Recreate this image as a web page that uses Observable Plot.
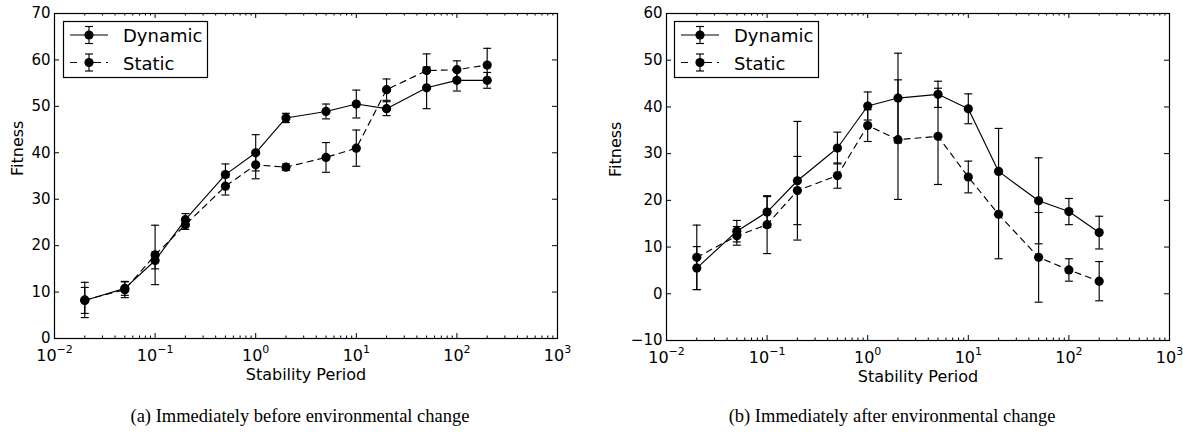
<!DOCTYPE html>
<html><head><meta charset="utf-8">
<script src="https://cdn.jsdelivr.net/npm/d3@7"></script>
<script src="https://cdn.jsdelivr.net/npm/@observablehq/plot@0.6"></script>
<style>
body{margin:0;background:#fff;}
#wrap{position:relative;width:1183px;height:438px;overflow:hidden;background:#fff;}
.panel{position:absolute;top:0;}
#overlay{position:absolute;left:0;top:0;pointer-events:none;}
</style></head>
<body><div id="wrap"></div>
<script>
// ---- data ----
const stabilityPeriod = [0.02, 0.05, 0.1, 0.2, 0.5, 1, 2, 5, 10, 20, 50, 100, 200];
// (a) before change
const dynamicBefore    = [8.2, 10.8, 16.8, 25.6, 35.3, 40.0, 47.5, 48.9, 50.5, 49.5, 54.0, 55.6, 55.6];
const dynamicBeforeErr = [2.8, 1.5, 1.8, 1.3, 2.3, 3.9, 1.0, 1.6, 3.0, 1.5, 4.5, 2.3, 1.7];
const staticBefore     = [8.3, 10.5, 18.0, 24.5, 32.8, 37.4, 36.9, 39.0, 41.0, 53.6, 57.7, 57.9, 58.9];
const staticBeforeErr  = [3.8, 1.7, 6.4, 1.0, 1.9, 3.0, 0.7, 3.2, 3.9, 2.3, 3.6, 1.9, 3.6];
// (b) after change
const dynamicAfter     = [5.5, 13.4, 17.5, 24.2, 31.2, 40.2, 41.9, 42.7, 39.6, 26.2, 19.9, 17.6, 13.1];
const dynamicAfterErr  = [4.6, 2.3, 3.3, 12.7, 3.4, 3.0, 9.6, 2.8, 3.2, 9.2, 9.2, 2.8, 3.5];
const staticAfter      = [7.8, 12.4, 14.8, 22.1, 25.3, 36.0, 33.0, 33.7, 25.0, 17.0, 7.8, 5.1, 2.7];
const staticAfterErr   = [6.9, 2.0, 6.2, 7.3, 2.7, 3.4, 12.8, 10.3, 3.4, 9.5, 9.6, 2.4, 4.2];

const xMajorTicks = [0.01, 0.1, 1, 10, 100, 1000];
const xMinorTicks = [0.01, 0.1, 1, 10, 100].flatMap(d => [2,3,4,5,6,7,8,9].map(m => +(m * d).toPrecision(3)));
const yTicksBefore = [0, 10, 20, 30, 40, 50, 60, 70];
const yTicksAfter  = [-10, 0, 10, 20, 30, 40, 50, 60];
const seriesNames = ["Dynamic", "Static"];
const captions = ["(a) Immediately before environmental change", "(b) Immediately after environmental change"];

// ---- helpers ----
const capSymbol = {draw(context, size) { const w = Math.sqrt(size / Math.PI); context.moveTo(-w, 0); context.lineTo(w, 0); }};
const rows = (ys, es) => stabilityPeriod.map((x, i) => ({x, y: ys[i], lo: ys[i] - es[i], hi: ys[i] + es[i]}));

function panel({dyn, dynErr, sta, staErr, yDomain, yTicks, width, marginLeft, marginRight, marginBottom, yLabelDx}) {
  const height = 384, marginTop = 13;
  const frameH = height - marginTop - marginBottom;
  const frameW = width - marginLeft - marginRight;
  const d = rows(dyn, dynErr), s = rows(sta, staErr);
  const seriesMarks = (data, dash) => [
    Plot.line(data, {x: "x", y: "y", stroke: "#000", strokeWidth: 1.15, strokeDasharray: dash}),
    Plot.ruleX(data, {x: "x", y1: "lo", y2: "hi", stroke: "#000", strokeWidth: 1.15}),
    Plot.dot(data, {x: "x", y: "lo", symbol: capSymbol, r: 4, stroke: "#000", fill: "none", strokeWidth: 1.15}),
    Plot.dot(data, {x: "x", y: "hi", symbol: capSymbol, r: 4, stroke: "#000", fill: "none", strokeWidth: 1.15}),
    Plot.dot(data, {x: "x", y: "y", r: 4.6, fill: "#000", stroke: "none"})
  ];
  const svg = Plot.plot({
    width, height, marginTop, marginLeft, marginRight, marginBottom,
    style: {fontFamily: "DejaVu Sans", fontSize: "15px", color: "#000", background: "#fff"},
    x: {type: "log", domain: [0.01, 1000]},
    y: {domain: yDomain},
    marks: [
      Plot.ruleX(xMinorTicks, {stroke: "#000", insetTop: frameH - 2.5}),
      Plot.ruleX(xMinorTicks, {stroke: "#000", insetBottom: frameH - 2.5}),
      Plot.ruleX(xMajorTicks, {stroke: "#000", insetTop: frameH - 5}),
      Plot.ruleX(xMajorTicks, {stroke: "#000", insetBottom: frameH - 5}),
      Plot.ruleY(yTicks, {stroke: "#000", insetRight: frameW - 5}),
      Plot.ruleY(yTicks, {stroke: "#000", insetLeft: frameW - 5}),
      Plot.frame({stroke: "#000", strokeWidth: 1.2}),
      Plot.axisX(xMajorTicks, {tickSize: 0, tickPadding: 11, label: null, fontSize: 16,
        tickFormat: v => "10^" + Math.round(Math.log10(v))}),
      Plot.axisY(yTicks, {tickSize: 0, tickPadding: 4, label: null, fontSize: 15}),
      Plot.text(["Stability Period"], {text: t => t, frameAnchor: "bottom", dy: 41, fontSize: 16}),
      Plot.text(["Fitness"], {text: t => t, frameAnchor: "left", rotate: -90, dx: yLabelDx, fontSize: 16}),
      ...seriesMarks(d, null),
      ...seriesMarks(s, "6,5")
    ]
  });
  d3.select(svg).selectAll('g[aria-label="x-axis tick label"] text').each(function() {
    const parts = this.textContent.split("^");
    if (parts.length < 2) return;
    const e = parts[1].replace("-", "\u2212");
    this.textContent = parts[0];
    const ts = document.createElementNS("http://www.w3.org/2000/svg", "tspan");
    ts.setAttribute("dy", "-8");
    ts.setAttribute("font-size", "11");
    ts.textContent = e;
    this.appendChild(ts);
  });
  return svg;
}

const wrap = document.getElementById("wrap");
const left = panel({dyn: dynamicBefore, dynErr: dynamicBeforeErr, sta: staticBefore, staErr: staticBeforeErr,
  yDomain: [0, 70], yTicks: yTicksBefore, width: 591, marginLeft: 54, marginRight: 34, marginBottom: 46, yLabelDx: -37});
const right = panel({dyn: dynamicAfter, dynErr: dynamicAfterErr, sta: staticAfter, staErr: staticAfterErr,
  yDomain: [-10, 60], yTicks: yTicksAfter, width: 591, marginLeft: 74, marginRight: 14, marginBottom: 44, yLabelDx: -51});
const pl = document.createElement("div"); pl.className = "panel"; pl.style.left = "0px"; pl.appendChild(left);
const pr = document.createElement("div"); pr.className = "panel"; pr.style.left = "592px"; pr.appendChild(right);
wrap.appendChild(pl); wrap.appendChild(pr);

// ---- overlay: legends and captions ----
const ov = d3.select(wrap).append("svg").attr("id", "overlay").attr("width", 1183).attr("height", 438);
function legend(x0, y0) {
  const g = ov.append("g").attr("transform", `translate(${x0},${y0})`);
  g.append("rect").attr("x", 0.5).attr("y", 0.5).attr("width", 144).attr("height", 56).attr("fill", "#fff").attr("stroke", "#000").attr("stroke-width", 1.2);
  seriesNames.forEach((name, i) => {
    const cy = i === 0 ? 14 : 41.5;
    const ln = g.append("line").attr("x1", 7).attr("x2", 45).attr("y1", cy).attr("y2", cy).attr("stroke", "#000").attr("stroke-width", 1.15);
    if (i === 1) ln.attr("stroke-dasharray", "7,12,12,5,2,10");
    g.append("line").attr("x1", 26).attr("x2", 26).attr("y1", cy - 8.5).attr("y2", cy + 8.5).attr("stroke", "#000").attr("stroke-width", 1.15);
    g.append("line").attr("x1", 22).attr("x2", 30).attr("y1", cy - 8.5).attr("y2", cy - 8.5).attr("stroke", "#000").attr("stroke-width", 1.15);
    g.append("line").attr("x1", 22).attr("x2", 30).attr("y1", cy + 8.5).attr("y2", cy + 8.5).attr("stroke", "#000").attr("stroke-width", 1.15);
    g.append("circle").attr("cx", 26).attr("cy", cy).attr("r", 4.6).attr("fill", "#000");
    g.append("text").attr("x", 60).attr("y", cy + 7).attr("font-family", "DejaVu Sans").attr("font-size", 18).attr("fill", "#000").text(name);
  });
}
legend(63, 21);
legend(674, 21);
captions.forEach((c, i) => {
  ov.append("text").attr("x", i === 0 ? 300 : 892).attr("y", 422).attr("text-anchor", "middle")
    .attr("font-family", "Liberation Serif").attr("font-size", 18.5).attr("fill", "#000").text(c);
});
</script>
</body></html>
